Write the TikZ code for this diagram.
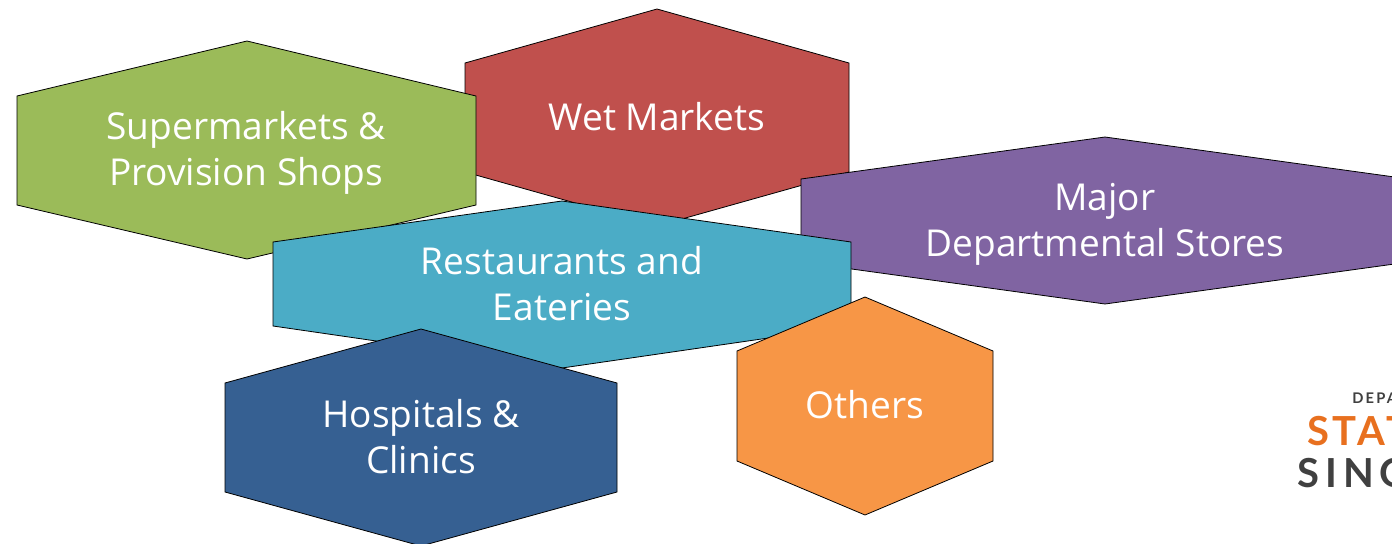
\documentclass[tikz,border=0pt]{standalone}
\usepackage{fontspec}
\setmainfont{Open Sans}
\newfontfamily\logofont[LetterSpace=15]{Lato Bold}
\newfontfamily\logostat[LetterSpace=9]{Lato Bold}
\definecolor{hgreen}{HTML}{9BBB59}
\definecolor{hred}{HTML}{C0504D}
\definecolor{hpurple}{HTML}{8064A2}
\definecolor{hteal}{HTML}{4BACC6}
\definecolor{hnavy}{HTML}{366092}
\definecolor{horange}{HTML}{F79646}
\definecolor{logoorange}{HTML}{E8701F}
\definecolor{logogray}{HTML}{404040}
\tikzset{
  hex/.style={draw=black,line width=0.6pt,line join=miter},
  lab/.style={text=white,font=\fontsize{27.8}{34.5}\selectfont,align=center,inner sep=0pt},
  logo/.style={anchor=base west,inner sep=0pt}
}
\begin{document}
\begin{tikzpicture}[x=0.75pt,y=-0.75pt]
\useasboundingbox (0,0) rectangle (1392,543);
\clip (0,0) rectangle (1392,543);
\fill[white] (0,0) rectangle (1392,543);
\draw[hex,fill=hred] (465,63)--(657,9)--(849,63)--(849,172)--(657,226)--(465,172)--cycle;
\draw[hex,fill=hgreen] (17,96)--(247,41)--(476,96)--(476,205)--(247,259)--(17,205)--cycle;
\draw[hex,fill=hpurple] (801,179)--(1105,137)--(1409,179)--(1409,262)--(1105,304)--(801,262)--cycle;
\draw[hex,fill=hteal] (273,242)--(562,201)--(851,242)--(851,326)--(562,368)--(273,326)--cycle;
\draw[hex,fill=hnavy] (225,383)--(421,329)--(617,383)--(617,492)--(421,546)--(225,492)--cycle;
\draw[hex,fill=horange] (737,351)--(865,297)--(993,351)--(993,461)--(865,515)--(737,461)--cycle;
\node[lab] (green) at (246,153) {Supermarkets \&\\Provision Shops};
\node[lab] (red) at (657,117) {Wet Markets};
\node[lab] (purple) at (1105,224) {Major\\Departmental Stores};
\node[lab] (teal) at (562,284) {Restaurants and\\Eateries};
\node[lab] (navy) at (421,437) {Hospitals \&\\Clinics};
\node[lab] (orange) at (865,405) {Others};
\node[logo,text=logogray,font=\logofont\fontsize{11}{12}\selectfont] (dep) at (1352,403) {DEPA};
\node[logo,text=logoorange,font=\logostat\fontsize{30}{32}\selectfont] (stat) at (1307,445) {STAT};
\node[logo,text=logogray,font=\logofont\fontsize{30}{32}\selectfont] (sing) at (1297,487) {SING};
\end{tikzpicture}
\end{document}
